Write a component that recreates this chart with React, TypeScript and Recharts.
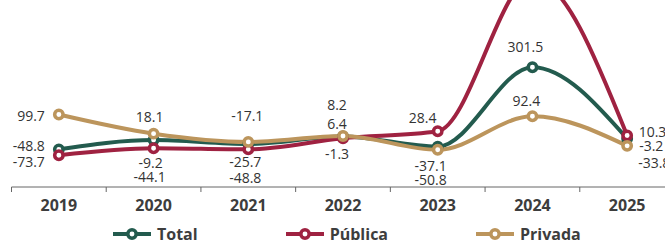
import React from 'react';
import { LineChart, Line, XAxis, YAxis, Legend, LabelList } from 'recharts';

const years = ['2019', '2020', '2021', '2022', '2023', '2024', '2025'];
const seriesNames = ['Total', 'Pública', 'Privada'];
const total = [-48.8, -9.2, -25.7, 6.4, -37.1, 301.5, -3.2];
const publica = [-73.7, -44.1, -48.8, -1.3, 28.4, 680, 10.3];
const privada = [99.7, 18.1, -17.1, 8.2, -50.8, 92.4, -33.8];

const data = years.map((year, i) => ({
  year,
  total: total[i],
  publica: publica[i],
  privada: privada[i],
}));

const GREEN = '#235B4E';
const MAROON = '#9F2241';
const GOLD = '#BC955C';
const TEXT = '#333333';

const CHART_W = 680;
const CHART_H = 280;
const MARGIN = { top: 17.3, right: 5.5, bottom: 13, left: 11.5 };
const PLOT_W = CHART_W - MARGIN.left - MARGIN.right;
const STEP = PLOT_W / years.length;

// label placement per point: [dx, dy, anchor]
type Off = [number, number, 'start' | 'middle' | 'end'];
const totalLabels: Off[] = [
  [-14, -4, 'end'], [-3, 22, 'middle'], [-3, 18, 'middle'], [-6, -13.4, 'middle'],
  [-7, 19.3, 'middle'], [-7, -21, 'middle'], [12, 7.3, 'start'],
];
const publicaLabels: Off[] = [
  [-14, 6.6, 'end'], [-4, 28.6, 'middle'], [-3, 28, 'middle'], [-6, 15, 'middle'],
  [-15, -14, 'middle'], [-6, -21, 'middle'], [11.5, -3.5, 'start'],
];
const privadaLabels: Off[] = [
  [-14, 1, 'end'], [-4, -17, 'middle'], [-1, -26, 'middle'], [-6, -31, 'middle'],
  [-7, 30, 'middle'], [-6, -16, 'middle'], [11, 16.5, 'start'],
];

const makeLabel = (offsets: Off[]) => (props: any) => {
  const { x, y, value, index } = props;
  const off = offsets[index];
  if (!off || x == null || y == null) return null;
  return (
    <text
      x={x + off[0]}
      y={y + off[1]}
      textAnchor={off[2]}
      dominantBaseline="central"
      fontSize={14}
      fill={TEXT}
    >
      {value}
    </text>
  );
};

function YearTick(props: any) {
  const { x, y, payload, index } = props;
  const axisY = y - 8;
  return (
    <g>
      <line x1={x - STEP / 2} x2={x - STEP / 2} y1={axisY} y2={axisY + 5} stroke="#666" />
      {index === years.length - 1 && (
        <line x1={x + STEP / 2} x2={x + STEP / 2} y1={axisY} y2={axisY + 5} stroke="#666" />
      )}
      <text
        x={x}
        y={axisY + 17.5}
        textAnchor="middle"
        dominantBaseline="central"
        fontSize={16}
        fontWeight={700}
        fill="#3d3d3d"
      >
        {payload.value}
      </text>
    </g>
  );
}

function LegendContent({ payload }: any) {
  const items = [...(payload || [])].sort(
    (a: any, b: any) => seriesNames.indexOf(a.value) - seriesNames.indexOf(b.value)
  );
  return (
    <div style={{ display: 'flex', alignItems: 'center', height: 26, paddingLeft: 113, gap: 88 }}>
      {items.map((p: any) => (
        <div key={p.value} style={{ display: 'flex', alignItems: 'center', gap: 6 }}>
          <svg width={38} height={14}>
            <line x1={0} x2={38} y1={7} y2={7} stroke={p.color} strokeWidth={4} />
            <circle cx={19} cy={7} r={4.2} fill="#fff" stroke={p.color} strokeWidth={3.5} />
          </svg>
          <span style={{ fontWeight: 700, fontSize: 16, lineHeight: '22px', color: '#3d3d3d' }}>
            {p.value}
          </span>
        </div>
      ))}
    </div>
  );
}

export default function App() {
  const dot = { r: 4.2, strokeWidth: 3.5, fill: '#fff' };
  return (
    <div
      style={{
        position: 'fixed',
        top: 0,
        left: 0,
        width: 665,
        height: 244,
        overflow: 'hidden',
        background: '#fff',
        fontFamily: '"Open Sans", sans-serif',
      }}
    >
      <div style={{ position: 'absolute', top: -20, left: 0 }}>
        <LineChart width={CHART_W} height={CHART_H} data={data} margin={MARGIN}>
          <XAxis
            dataKey="year"
            height={34}
            padding={{ left: STEP / 2, right: STEP / 2 }}
            axisLine={{ stroke: '#666' }}
            tickLine={false}
            tickSize={6}
            tickMargin={2}
            tick={<YearTick />}
            interval={0}
          />
          <YAxis hide domain={[-209.5, 600]} allowDataOverflow />
          <Legend
            verticalAlign="bottom"
            content={<LegendContent />}
            wrapperStyle={{ left: 0, width: CHART_W }}
          />
          <Line
            type="monotone"
            dataKey="total"
            name="Total"
            stroke={GREEN}
            strokeWidth={4}
            dot={{ ...dot, stroke: GREEN }}
            activeDot={false}
            isAnimationActive={false}
          >
            <LabelList dataKey="total" content={makeLabel(totalLabels)} />
          </Line>
          <Line
            type="monotone"
            dataKey="publica"
            name="Pública"
            stroke={MAROON}
            strokeWidth={4}
            dot={{ ...dot, stroke: MAROON }}
            activeDot={false}
            isAnimationActive={false}
          >
            <LabelList dataKey="publica" content={makeLabel(publicaLabels)} />
          </Line>
          <Line
            type="monotone"
            dataKey="privada"
            name="Privada"
            stroke={GOLD}
            strokeWidth={4}
            dot={{ ...dot, stroke: GOLD }}
            activeDot={false}
            isAnimationActive={false}
          >
            <LabelList dataKey="privada" content={makeLabel(privadaLabels)} />
          </Line>
        </LineChart>
      </div>
    </div>
  );
}
